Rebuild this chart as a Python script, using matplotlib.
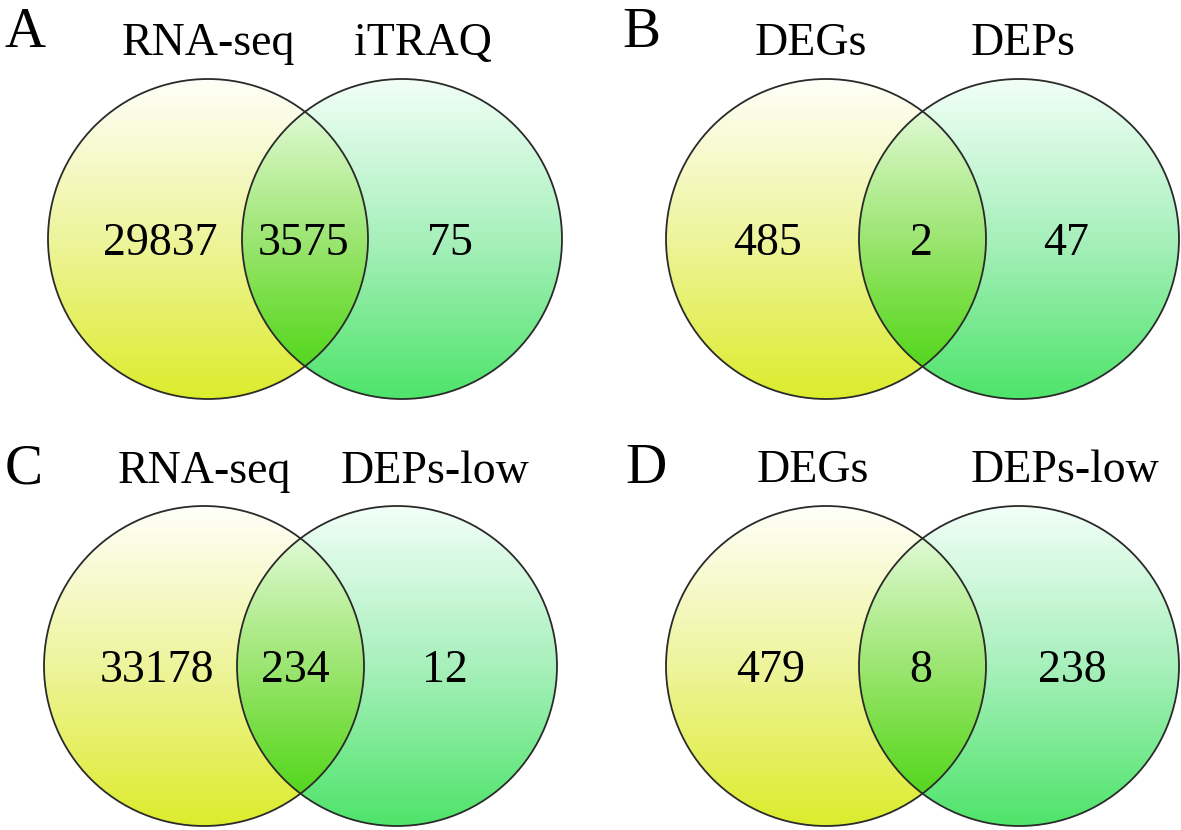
import numpy as np
import matplotlib
matplotlib.use("Agg")
import matplotlib.pyplot as plt
from matplotlib.patches import Circle
from matplotlib.colors import LinearSegmentedColormap

# ---- data ----
panel_letters = ["A", "B", "C", "D"]
left_names = ["RNA-seq", "DEGs", "RNA-seq", "DEGs"]
right_names = ["iTRAQ", "DEPs", "DEPs-low", "DEPs-low"]
left_only = [29837, 485, 33178, 479]
shared = [3575, 2, 234, 8]
right_only = [75, 47, 12, 238]

# ---- layout (pixel coordinates, y downward) ----
W, H = 1181, 830
R = 160
centers_left = [(208, 239), (826, 239), (204, 666), (826, 666)]
centers_right = [(402, 239), (1019, 239), (397, 666), (1019, 666)]
letter_pos = [(25, 47), (641, 47), (24, 483), (646, 483)]
title_left_pos = [(208, 55), (811, 55), (204, 483), (813, 482)]
title_right_pos = [(423, 55), (1023, 55), (435, 483), (1065, 482)]
num_x = [(160, 303, 450), (768, 921, 1066), (157, 295, 445), (771, 921, 1072)]

cmap_left = LinearSegmentedColormap.from_list(
    "lft", ["#fffffa", "#eef49c", "#dcec2c"])
cmap_right = LinearSegmentedColormap.from_list(
    "rgt", ["#f2fff8", "#a8f0bc", "#4ee46a"])

fig = plt.figure(figsize=(W / 100, H / 100), dpi=100)
ax = fig.add_axes([0, 0, 1, 1])
ax.set_xlim(0, W)
ax.set_ylim(H, 0)
ax.set_aspect("equal")
ax.axis("off")

serif = "Liberation Serif"

for i in range(4):
    (xl, yl), (xr, yr) = centers_left[i], centers_right[i]
    x0, x1 = xl - R - 2, xr + R + 2
    y0, y1 = yl - R - 2, yl + R + 2
    xs = np.arange(x0, x1, 0.5)
    ys = np.arange(y0, y1, 0.5)
    X, Y = np.meshgrid(xs, ys)
    inL = (X - xl) ** 2 + (Y - yl) ** 2 <= R ** 2
    inR = (X - xr) ** 2 + (Y - yr) ** 2 <= R ** 2
    t = np.clip((Y - (yl - R)) / (2 * R), 0, 1)
    cL = cmap_left(t)[..., :3]
    cR = cmap_right(t)[..., :3]
    rgb = np.ones(X.shape + (3,))
    rgb[inL] *= cL[inL]
    rgb[inR] *= cR[inR]
    alpha = (inL | inR).astype(float)
    img = np.dstack([rgb, alpha])
    ax.imshow(img, extent=(x0, x1, y1, y0), origin="upper",
              interpolation="bilinear", zorder=1)

    for (cx, cy) in [(xl, yl), (xr, yr)]:
        ax.add_patch(Circle((cx, cy), R, fill=False, edgecolor="#2a2a2a",
                            linewidth=1.3, zorder=3))

    ax.text(*letter_pos[i], panel_letters[i], fontsize=41, family=serif,
            ha="center", va="baseline", zorder=4)
    ax.text(*title_left_pos[i], left_names[i], fontsize=33, family=serif,
            ha="center", va="baseline", zorder=4)
    ax.text(*title_right_pos[i], right_names[i], fontsize=33, family=serif,
            ha="center", va="baseline", zorder=4)
    nb = yl + 16
    for x, v in zip(num_x[i], (left_only[i], shared[i], right_only[i])):
        ax.text(x, nb, str(v), fontsize=33, family=serif,
                ha="center", va="baseline", zorder=4)

fig.savefig("out.png", dpi=100)
